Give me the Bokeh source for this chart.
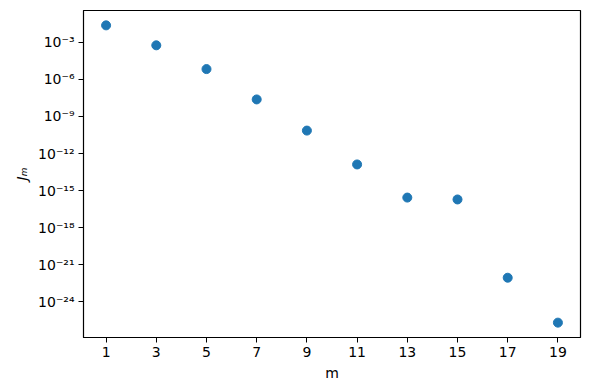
import numpy as np
from bokeh.plotting import figure
from bokeh.models import FixedTicker, CustomJSTickFormatter, Range1d
from bokeh.embed import file_html
from bokeh.resources import INLINE

m = [1, 3, 5, 7, 9, 11, 13, 15, 17, 19]
J = [2.4e-2, 5.8e-4, 6.9e-6, 2.4e-8, 7.2e-11, 1.3e-13, 2.7e-16, 1.9e-16, 8.7e-23, 2.0e-26]
x_ticks = [1, 3, 5, 7, 9, 11, 13, 15, 17, 19]
y_ticks = [1e-3, 1e-6, 1e-9, 1e-12, 1e-15, 1e-18, 1e-21, 1e-24]

lj = np.log10(J)
span = lj.max() - lj.min()
y0 = 10 ** (lj.min() - 0.05 * span)
y1 = 10 ** (lj.max() + 0.05 * span)
xs = max(m) - min(m)

p = figure(width=590, height=390, y_axis_type="log", output_backend="svg",
           toolbar_location=None,
           x_range=Range1d(min(m) - 0.05 * xs, max(m) + 0.05 * xs),
           y_range=Range1d(y0, y1),
           min_border_left=83, min_border_right=10, min_border_top=10, min_border_bottom=53)

p.scatter(m, J, size=9, color="#1f77b4", line_color="#1f77b4")

p.xgrid.visible = False
p.ygrid.visible = False
p.outline_line_color = "black"
p.outline_line_width = 1.2

p.xaxis.ticker = FixedTicker(ticks=x_ticks, minor_ticks=[])
p.yaxis.ticker = FixedTicker(ticks=y_ticks, minor_ticks=[])
p.yaxis.formatter = CustomJSTickFormatter(code="""
const e = Math.round(Math.log10(tick));
const sup = {'-':'\u207b','0':'\u2070','1':'\u00b9','2':'\u00b2','3':'\u00b3','4':'\u2074','5':'\u2075','6':'\u2076','7':'\u2077','8':'\u2078','9':'\u2079'};
return '10' + String(e).split('').map(c => sup[c]).join('');
""")

for ax in [p.xaxis[0], p.yaxis[0]]:
    ax.axis_line_color = "black"
    ax.major_tick_line_color = "black"
    ax.major_tick_out = 5
    ax.major_tick_in = 0
    ax.minor_tick_line_color = None
    ax.major_label_text_font = "DejaVu Sans"
    ax.major_label_text_font_size = "14px"
    ax.major_label_text_color = "black"
    ax.axis_label_text_font = "DejaVu Sans"
    ax.axis_label_text_font_size = "14px"
    ax.axis_label_text_font_style = "normal"
    ax.axis_label_text_color = "black"

p.xaxis.axis_label = "m"
p.yaxis.axis_label = "J\u2098"
p.yaxis.axis_label_text_font_style = "italic"
p.xaxis.major_label_standoff = 4
p.yaxis.major_label_standoff = 4

open("out.html", "w").write(file_html(p, INLINE))
